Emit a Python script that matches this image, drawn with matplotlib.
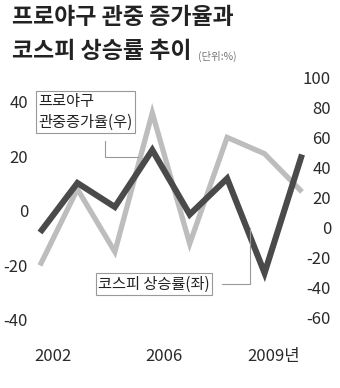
import matplotlib
matplotlib.use('Agg')
import matplotlib.pyplot as plt
from matplotlib.lines import Line2D

plt.rcParams['font.family'] = ['Noto Sans CJK KR', 'DejaVu Sans']

years = [2002, 2003, 2004, 2005, 2006, 2007, 2008, 2009]
# 관중 증가율 (light line)
attendance = [-20, 8, -15, 36, -12, 27, 21, 7]
# 코스피 상승률 (dark line)
kospi = [-3, 30, 14, 52, 9, 33, -30, 49]

left_ticks = [40, 20, 0, -20, -40]
right_ticks = [100, 80, 60, 40, 20, 0, -20, -40, -60]
xtick_labels = ['2002', '2006', '2009년']
xtick_pos = [2002.35, 2005.31, 2008.25]

W, H = 340, 388
fig = plt.figure(figsize=(W / 100, H / 100), dpi=100)

def px(x, y):
    return x / W, 1 - y / H

ax = fig.add_axes([40 / W, 1 - 330 / H, 262 / W, 258 / H])
ax2 = ax.twinx()

ax.plot(years, attendance, color='#bdbdbd', lw=3.8, solid_joinstyle='miter',
        solid_capstyle='butt', clip_on=False, zorder=2)
ax2.plot(years, kospi, color='#4a4a4a', lw=4.4, solid_joinstyle='miter',
         solid_capstyle='butt', clip_on=False, zorder=3)
ax.set_zorder(1)
ax.patch.set_visible(False)
ax2.set_zorder(2)

ax.set_xlim(2002, 2009)
ax.set_ylim(-43.7, 51.0)
ax2.set_ylim(-68, 104)

for a in (ax, ax2):
    for s in a.spines.values():
        s.set_visible(False)
    a.tick_params(length=0, colors='#2a2a2a', labelsize=12)

ax.set_yticks(left_ticks)
ax.set_yticklabels([str(t) for t in left_ticks], fontweight='medium')
ax.tick_params(axis='y', pad=8.6)
ax2.set_yticks(right_ticks)
ax2.set_yticklabels([str(t) for t in right_ticks], ha='right', fontweight='medium')
ax2.tick_params(axis='y', pad=20.9)
ax.set_xticks(xtick_pos)
ax.set_xticklabels(xtick_labels, fontweight='medium')
ax.tick_params(axis='x', pad=13)

# title
fig.text(*px(12, 17), '프로야구 관중 증가율과', fontsize=16.5, fontweight='bold',
         color='#222222', va='center', ha='left')
fig.text(*px(12, 51), '코스피 상승률 추이', fontsize=16.5, fontweight='bold',
         color='#222222', va='center', ha='left')
fig.text(*px(198, 56), '(단위:%)', fontsize=7.5, color='#777777', va='center', ha='left')

# label boxes
box = dict(boxstyle='square,pad=0.15', fc='white', ec='#999999', lw=0.8)
fig.text(*px(38, 112), '프로야구\n관중증가율(우)', fontsize=11, color='#222222',
         fontweight='medium', va='center', ha='left', linespacing=1.3,
         bbox=box, zorder=5)
fig.text(*px(98, 284), '코스피 상승률(좌)', fontsize=11, color='#222222',
         fontweight='medium', va='center', ha='left', bbox=box, zorder=5)

for xs, ys in [([105, 105, 138], [141, 157, 157]),
               ([222, 250, 250], [284, 284, 228])]:
    pts = [px(x, y) for x, y in zip(xs, ys)]
    fig.add_artist(Line2D([p[0] for p in pts], [p[1] for p in pts],
                          color='#999999', lw=0.8, zorder=4))

fig.savefig('out.png', dpi=100)
